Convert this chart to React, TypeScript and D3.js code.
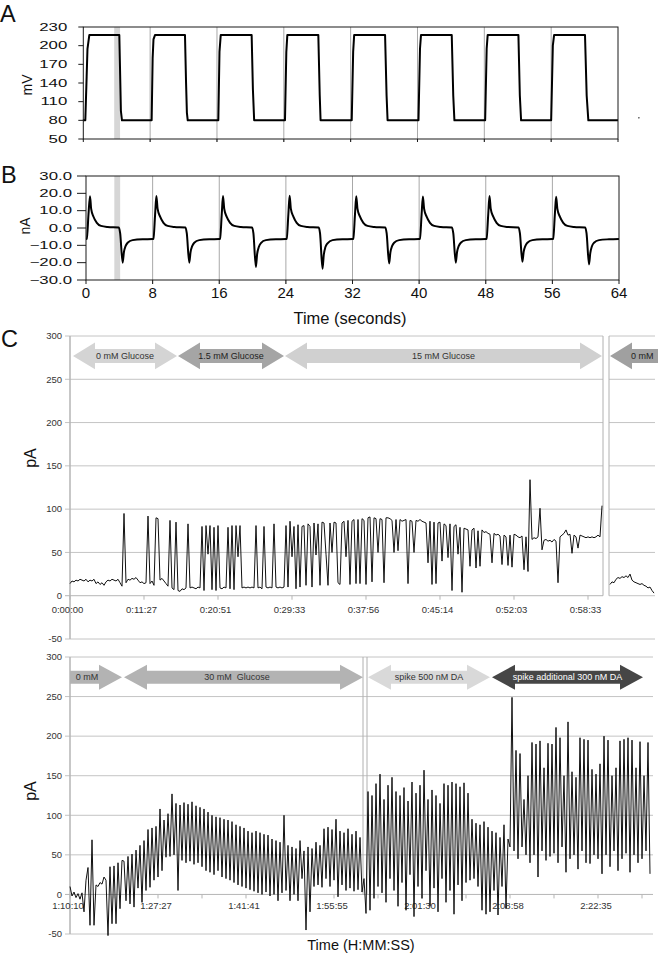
import { useEffect, useRef } from "react";
import * as d3 from "d3";

type Pt = [number, number];
type Arrow = {
  label: string;
  from: number;
  to: number;
  left: boolean;
  right: boolean;
  fill: string;
  ink: string;
  textAt?: number;
  anchor?: string;
};

const WIDTH = 660;
const HEIGHT = 954;
const FONT = "'Liberation Sans', Arial, Helvetica, sans-serif";

// ---- panel A : applied potential (mV) vs time (s)
const potentialTicks = [50, 80, 110, 140, 170, 200, 230];
const potentialTrace: Pt[] = [
  [-0.05, 80], [0.24, 80], [0.4, 150], [0.5, 195], [0.72, 217], [4.31, 217], [4.4, 160], [4.5, 95], [4.63, 80],
  [8.18, 80], [8.3, 180], [8.4, 210], [8.58, 217], [12.17, 217], [12.3, 140], [12.4, 92], [12.5, 80],
  [16.16, 80], [16.3, 190], [16.45, 217], [20.15, 217], [20.3, 130], [20.45, 80],
  [24.14, 80], [24.3, 190], [24.42, 217], [28.13, 217], [28.3, 120], [28.4, 80],
  [32.13, 80], [32.3, 190], [32.42, 217], [36.12, 217], [36.3, 120], [36.42, 80],
  [40.12, 80], [40.3, 195], [40.42, 217], [44.1, 217], [44.28, 120], [44.42, 80],
  [48.1, 80], [48.28, 195], [48.4, 217], [52.08, 217], [52.25, 120], [52.4, 80],
  [56.0, 80], [56.2, 200], [56.35, 217], [60.05, 217], [60.25, 120], [60.45, 80], [64, 80],
];
const potentialStray: Pt[] = [[66.5, 84]];
const bandA = [3.7, 4.4];

// ---- panel B : current (nA) vs time (s)
const currentTicks = [-30, -20, -10, 0, 10, 20, 30];
const timeTicks = [0, 8, 16, 24, 32, 40, 48, 56, 64];
const bandB = [3.4, 4.1];
const currentTrace: Pt[] = [
  [0, -6.4], [0.1, -6.3], [0.3, 8], [0.48, 18.3], [0.62, 11], [0.9, 6.5], [1.3, 3], [1.8, 1.2], [2.6, 0.6], [3.95, 0.3],
  [4.1, -3], [4.4, -20], [4.55, -14], [4.75, -10.5], [5.0, -8.5], [5.6, -7], [6.8, -6.5],
  [8.0, -6.4], [8.1, -6.2], [8.3, 8], [8.45, 18.5], [8.6, 11], [8.9, 6.5], [9.3, 3], [9.8, 1.2], [10.6, 0.6], [11.95, 0.3],
  [12.1, -3], [12.4, -20], [12.55, -14], [12.75, -10.5], [13.0, -8.5], [13.6, -7], [14.8, -6.5],
  [16.0, -6.4], [16.1, -6.2], [16.3, 8], [16.45, 18.4], [16.6, 11], [16.9, 6.4], [17.3, 3], [17.8, 1.2], [18.6, 0.6], [19.95, 0.3],
  [20.1, -3], [20.4, -22.5], [20.55, -15], [20.75, -11], [21.0, -8.7], [21.6, -7], [22.8, -6.5],
  [24.0, -6.4], [24.1, -6.2], [24.3, 8], [24.45, 18.6], [24.6, 11], [24.9, 6.6], [25.3, 3], [25.8, 1.2], [26.6, 0.6], [27.95, 0.3],
  [28.1, -3], [28.4, -23.5], [28.55, -15.5], [28.75, -11], [29.0, -8.8], [29.6, -7], [30.8, -6.5],
  [32.0, -6.4], [32.1, -6.2], [32.3, 8], [32.45, 18.3], [32.6, 11], [32.9, 6.5], [33.3, 3], [33.8, 1.2], [34.6, 0.6], [35.95, 0.3],
  [36.1, -3], [36.4, -20.5], [36.55, -14], [36.75, -10.5], [37.0, -8.5], [37.6, -7], [38.8, -6.5],
  [40.0, -6.4], [40.1, -6.2], [40.3, 8], [40.45, 18.2], [40.6, 11], [40.9, 6.5], [41.3, 3], [41.8, 1.2], [42.6, 0.6], [43.95, 0.3],
  [44.1, -3], [44.4, -20], [44.55, -14], [44.75, -10.5], [45.0, -8.5], [45.6, -7], [46.8, -6.5],
  [48.0, -6.4], [48.1, -6.2], [48.3, 8], [48.45, 18.4], [48.6, 11], [48.9, 6.5], [49.3, 3], [49.8, 1.2], [50.6, 0.6], [51.95, 0.3],
  [52.1, -3], [52.4, -19.5], [52.55, -13.8], [52.75, -10.5], [53.0, -8.5], [53.6, -7], [54.8, -6.5],
  [56.0, -6.4], [56.1, -6.2], [56.3, 8], [56.45, 18], [56.6, 11], [56.9, 6.5], [57.3, 3], [57.8, 1.2], [58.6, 0.6], [59.95, 0.3],
  [60.1, -3], [60.4, -21], [60.55, -14.5], [60.75, -10.5], [61.0, -8.5], [61.6, -7], [62.8, -6.5], [64, -6.3],
];

// ---- panel C : amperometric recording (pA), one value per sample
const pATicks = [-50, 0, 50, 100, 150, 200, 250, 300];
const firstRunLabels = ["0:00:00", "0:11:27", "0:20:51", "0:29:33", "0:37:56", "0:45:14", "0:52:03", "0:58:33"];
const firstRunTickEvery = 37;
const firstRun = [
  14, 17, 16, 18, 17, 19, 18, 17, 19, 16,
  18, 17, 19, 14, 16, 13, 15, 12, 16, 18,
  17, 19, 18, 17, 19, 15, 11, 95, 15, 19,
  18, 20, 19, 21, 18, 15, 16, 14, 15, 92,
  14, 17, 12, 90, 89, 18, 20, 17, 14, 11,
  87, 9, 7, 85, 6, 5, 8, 7, 9, 83,
  9, 10, 9, 8, 10, 9, 80, 6, 81, 48,
  81, 7, 79, 6, 81, 9, 8, 10, 9, 79,
  8, 81, 7, 81, 45, 81, 9, 10, 9, 10,
  9, 10, 9, 81, 9, 10, 8, 80, 10, 9,
  10, 9, 83, 10, 9, 10, 9, 10, 81, 10,
  86, 45, 80, 8, 82, 10, 80, 81, 12, 83,
  80, 10, 84, 47, 83, 12, 85, 84, 48, 12,
  84, 50, 85, 84, 15, 13, 84, 86, 45, 87,
  13, 86, 88, 14, 88, 14, 89, 87, 13, 90,
  91, 16, 90, 89, 50, 89, 88, 15, 90, 90,
  89, 87, 50, 88, 52, 88, 86, 87, 88, 14,
  87, 86, 50, 87, 86, 88, 86, 85, 84, 38,
  86, 13, 85, 14, 84, 85, 40, 83, 81, 44,
  83, 6, 80, 82, 48, 79, 4, 78, 77, 76,
  34, 76, 78, 32, 75, 34, 76, 73, 74, 72,
  71, 38, 72, 70, 71, 69, 36, 70, 68, 35,
  70, 33, 71, 70, 68, 67, 69, 30, 68, 28,
  134, 65, 67, 66, 68, 101, 53, 64, 65, 63,
  64, 62, 65, 63, 15, 68, 70, 72, 76, 70,
  71, 49, 70, 68, 55, 70, 69, 68, 67, 68,
  67, 68, 67, 68, 70, 68, 104,
];
const firstRunTail = [13, 16, 15, 19, 21, 20, 22, 21, 23, 21, 25, 18, 16, 15, 14, 13, 14, 12, 11, 9, 10, 6, 3];

const secondRunLabels = ["1:10:10", "1:27:27", "1:41:41", "1:55:55", "2:01:30", "2:08:58", "2:22:35"];
const secondRunTickEvery = 44;
const secondRunSplit = 147.5;
const secondRun = [
  10, -2, 3, -4, 1, -6, 2, -22, 18, 34,
  -39, 69, -39, 12, 10, 15, 13, 22, 18, -52,
  35, -37, 36, -37, 40, -18, 43, 42, -8, 48,
  -12, 51, -16, 56, 8, 62, -10, 68, 5, 82,
  9, 84, 18, 86, 22, 108, 30, 94, 47, 102,
  48, 127, 50, 115, 5, 113, 43, 116, 40, 114,
  42, 117, 38, 112, 40, 110, 35, 108, 30, 104,
  28, 100, 25, 98, 30, 97, 22, 95, 20, 94,
  18, 92, 15, 88, 12, 86, 10, 84, 8, 80,
  6, 78, 4, 80, 2, 78, 0, 76, 3, 75,
  -2, 70, 0, 68, -8, 66, 2, 100, 5, 62,
  -8, 60, 0, 58, -8, 68, 20, 55, -45, 60,
  -22, 58, 10, 66, 12, 62, 9, 83, 20, 85,
  10, 82, 18, 95, -3, 80, 12, 78, 5, 83,
  8, 76, 4, 80, 6, 72, 3, 20, -24, 130,
  -20, 125, -5, 140, 10, 152, 2, 120, -10, 138,
  20, 148, 5, 130, -15, 125, 15, 135, -20, 118,
  25, 142, -28, 128, 10, 138, -5, 157, 30, 120,
  -15, 132, 8, 125, -22, 115, 20, 140, -10, 138,
  5, 142, -25, 140, 12, 136, -8, 141, 15, 128,
  18, 95, 20, 90, 10, 88, -20, 92, -25, 85,
  -22, 80, 5, 78, -26, 72, 10, 88, -18, 70,
  60, 249, 55, 182, 45, 178, 60, 120, 50, 150,
  40, 192, 50, 190, 22, 194, 55, 160, 43, 191,
  48, 190, 52, 211, 40, 198, 60, 150, 28, 218,
  45, 155, 50, 148, 32, 198, 55, 196, 40, 195,
  39, 158, 50, 152, 45, 165, 26, 200, 50, 195,
  35, 150, 55, 160, 30, 194, 45, 196, 52, 198,
  28, 195, 50, 160, 40, 193, 45, 150, 55, 192,
  26,
];

// condition arrows (sample index units)
const firstRunArrows: Arrow[] = [
  { label: "0 mM Glucose", from: 1.5, to: 53.5, left: true, right: true, fill: "#d4d4d4", ink: "#333" },
  { label: "1.5 mM Glucose", from: 54, to: 107, left: true, right: true, fill: "#a5a5a5", ink: "#222" },
  { label: "15 mM Glucose", from: 107.5, to: 266, left: true, right: true, fill: "#d0d0d0", ink: "#333" },
];
const tailArrows: Arrow[] = [
  { label: "0 mM", from: 0, to: 40, left: true, right: false, fill: "#a0a0a0", ink: "#222", textAt: 10.5, anchor: "start" },
];
const secondRunArrows: Arrow[] = [
  { label: "0 mM", from: 0, to: 26, left: false, right: true, fill: "#b3b3b3", ink: "#333", textAt: 8.5 },
  { label: "30 mM  Glucose", from: 27, to: 146.5, left: true, right: true, fill: "#b3b3b3", ink: "#333", textAt: 83.5 },
  { label: "spike 500 nM DA", from: 149, to: 210, left: true, right: true, fill: "#d9d9d9", ink: "#333" },
  { label: "spike additional 300 nM DA", from: 211, to: 286.5, left: true, right: true, fill: "#464646", ink: "#fff" },
];

const GRID = "#c4c4c4";
const AXIS = "#b5b5b5";

function arrowPoints(x1: number, x2: number, yc: number, shaft: number, head: number, len: number, left: boolean, right: boolean): Pt[] {
  const pts: Pt[] = [];
  if (left) pts.push([x1, yc], [x1 + len, yc - head], [x1 + len, yc - shaft]);
  else pts.push([x1, yc - shaft]);
  if (right) pts.push([x2 - len, yc - shaft], [x2 - len, yc - head], [x2, yc], [x2 - len, yc + head], [x2 - len, yc + shaft]);
  else pts.push([x2, yc - shaft], [x2, yc + shaft]);
  if (left) pts.push([x1 + len, yc + shaft], [x1 + len, yc + head]);
  else pts.push([x1, yc + shaft]);
  return pts;
}

export default function App() {
  const svgRef = useRef<SVGSVGElement>(null);

  useEffect(() => {
    const svg = d3.select(svgRef.current);
    svg.selectAll("*").remove();

    const text = (
      g: d3.Selection<any, unknown, null, undefined>,
      x: number,
      y: number,
      s: string,
      size: number,
      anchor = "middle",
      fill = "#111",
    ) =>
      g
        .append("text")
        .attr("x", x)
        .attr("y", y)
        .attr("font-family", FONT)
        .attr("font-size", size)
        .attr("text-anchor", anchor)
        .attr("fill", fill)
        .style("white-space", "pre")
        .text(s);

    // ================= A =================
    const A = { left: 83.3, right: 618, top: 27, bottom: 139 };
    const xA = d3.scaleLinear().domain([0, 64]).range([A.left, A.right]);
    const yA = d3.scaleLinear().domain([50, 230]).range([A.bottom, A.top]);
    const gA = svg.append("g");

    gA.append("rect")
      .attr("x", xA(bandA[0]))
      .attr("width", xA(bandA[1]) - xA(bandA[0]))
      .attr("y", A.top)
      .attr("height", A.bottom - A.top)
      .attr("fill", "#d6d6d6");
    gA.selectAll(".vg")
      .data(timeTicks.slice(1, -1))
      .enter()
      .append("line")
      .attr("x1", (d) => xA(d))
      .attr("x2", (d) => xA(d))
      .attr("y1", A.top)
      .attr("y2", A.bottom + 3)
      .attr("stroke", "#a8a8a8");
    gA.append("path")
      .datum(potentialTrace)
      .attr("fill", "none")
      .attr("stroke", "#000")
      .attr("stroke-width", 2)
      .attr("stroke-linejoin", "round")
      .attr("d", d3.line<Pt>().x((d) => xA(d[0])).y((d) => yA(d[1])));
    gA.selectAll(".stray")
      .data(potentialStray)
      .enter()
      .append("circle")
      .attr("cx", (d) => xA(d[0]))
      .attr("cy", (d) => yA(d[1]))
      .attr("r", 0.8)
      .attr("fill", "#444");
    gA.append("rect")
      .attr("x", A.left)
      .attr("y", A.top)
      .attr("width", A.right - A.left)
      .attr("height", A.bottom - A.top)
      .attr("fill", "none")
      .attr("stroke", "#1a1a1a");
    potentialTicks.forEach((v) => {
      gA.append("line").attr("x1", A.left - 5).attr("x2", A.left).attr("y1", yA(v)).attr("y2", yA(v)).attr("stroke", "#1a1a1a");
      text(gA, 0, 0, String(v), 10.5, "end")
        .attr("dy", "0.36em")
        .attr("transform", `translate(${A.left - 16},${yA(v)}) scale(1.6,1)`);
    });
    timeTicks.forEach((t) => {
      gA.append("line").attr("x1", xA(t)).attr("x2", xA(t)).attr("y1", A.bottom).attr("y2", A.bottom + 3).attr("stroke", "#1a1a1a");
    });
    text(gA, 0, 0, "mV", 14).attr("dy", "0.36em").attr("transform", `translate(27,${(A.top + A.bottom) / 2 + 2}) rotate(-90)`);
    text(gA, 0, 22, "A", 23.5, "start");

    // ================= B =================
    const B = { left: 86, right: 619, top: 176, bottom: 280 };
    const xB = d3.scaleLinear().domain([0, 64]).range([B.left, B.right]);
    const yB = d3.scaleLinear().domain([-30, 30]).range([B.bottom, B.top]);
    const gB = svg.append("g");
    gB.append("rect")
      .attr("x", xB(bandB[0]))
      .attr("width", xB(bandB[1]) - xB(bandB[0]))
      .attr("y", B.top)
      .attr("height", B.bottom - B.top)
      .attr("fill", "#d6d6d6");
    gB.selectAll(".vg")
      .data(timeTicks.slice(1, -1))
      .enter()
      .append("line")
      .attr("x1", (d) => xB(d))
      .attr("x2", (d) => xB(d))
      .attr("y1", B.top)
      .attr("y2", B.bottom + 4)
      .attr("stroke", "#a8a8a8");
    gB.append("path")
      .datum(currentTrace)
      .attr("fill", "none")
      .attr("stroke", "#000")
      .attr("stroke-width", 2)
      .attr("stroke-linejoin", "round")
      .attr("d", d3.line<Pt>().x((d) => xB(d[0])).y((d) => yB(d[1])).curve(d3.curveMonotoneX));
    gB.append("rect")
      .attr("x", B.left)
      .attr("y", B.top)
      .attr("width", B.right - B.left)
      .attr("height", B.bottom - B.top)
      .attr("fill", "none")
      .attr("stroke", "#1a1a1a");
    currentTicks.forEach((v) => {
      gB.append("line").attr("x1", B.left - 9).attr("x2", B.left).attr("y1", yB(v)).attr("y2", yB(v)).attr("stroke", "#1a1a1a");
      text(gB, 0, 0, d3.format(".1f")(v), 10.5, "end")
        .attr("dy", "0.36em")
        .attr("transform", `translate(${B.left - 14},${yB(v)}) scale(1.6,1)`);
    });
    timeTicks.forEach((t) => {
      gB.append("line").attr("x1", xB(t)).attr("x2", xB(t)).attr("y1", B.bottom).attr("y2", B.bottom + 4).attr("stroke", "#1a1a1a");
      text(gB, xB(t), 298, String(t), 15);
    });
    text(gB, 0, 0, "nA", 14).attr("dy", "0.36em").attr("transform", `translate(25,${yB(0) - 2}) rotate(-90)`);
    text(gB, 350, 324, "Time (seconds)", 16.5);
    text(gB, 1, 183, "B", 23.5, "start");

    // ================= C, first run =================
    const C1 = { left: 70, right: 602, segEnd: 603, seg2: 609, clip: 658, top: 336, bottom: 639 };
    const x1 = d3.scaleLinear().domain([0, firstRun.length - 1]).range([C1.left, C1.right]);
    const x1t = d3.scaleLinear().domain([0, firstRunTail.length - 1]).range([610, 654]);
    const y1 = d3.scaleLinear().domain([-50, 300]).range([C1.bottom, C1.top]);
    const gC = svg.append("g");

    pATicks.forEach((v) => {
      if (v === -50) {
        gC.append("line").attr("x1", C1.left - 5).attr("x2", 655).attr("y1", y1(v)).attr("y2", y1(v)).attr("stroke", GRID);
      } else {
        gC.append("line").attr("x1", C1.left - 5).attr("x2", C1.segEnd).attr("y1", y1(v)).attr("y2", y1(v)).attr("stroke", v === 0 ? AXIS : GRID);
        gC.append("line").attr("x1", C1.seg2).attr("x2", 655).attr("y1", y1(v)).attr("y2", y1(v)).attr("stroke", GRID);
      }
      text(gC, 62, y1(v), String(v), 9.5, "end", "#333").attr("dy", "0.35em");
    });
    [C1.segEnd, C1.seg2].forEach((x) => {
      gC.append("line").attr("x1", x).attr("x2", x).attr("y1", y1(300)).attr("y2", y1(0)).attr("stroke", "#b0b0b0");
    });
    gC.append("line").attr("x1", C1.left).attr("x2", C1.left).attr("y1", y1(300)).attr("y2", y1(-50)).attr("stroke", AXIS).attr("stroke-width", 1.5);
    firstRunLabels.forEach((lab, k) => {
      const xx = x1(k * firstRunTickEvery);
      gC.append("line").attr("x1", xx).attr("x2", xx).attr("y1", y1(0)).attr("y2", y1(0) + 4).attr("stroke", AXIS);
      text(gC, xx - 2.5, 613, lab, 9.5, "middle", "#333");
    });

    const drawArrows = (
      g: d3.Selection<any, unknown, null, undefined>,
      list: Arrow[],
      xs: d3.ScaleLinear<number, number>,
      yc: number,
      shaft: number,
      head: number,
      len: number,
    ) => {
      list.forEach((a) => {
        const pts = arrowPoints(xs(a.from), xs(a.to), yc, shaft, head, len, a.left, a.right);
        g.append("polygon").attr("points", pts.map((p) => p.join(",")).join(" ")).attr("fill", a.fill);
        const tx = a.textAt !== undefined ? xs(a.textAt) : (xs(a.from) + xs(a.to)) / 2;
        text(g, tx, yc, a.label, 9, a.anchor ?? "middle", a.ink).attr("dy", "0.35em");
      });
    };
    drawArrows(gC, firstRunArrows, x1, y1(277), 7, 13.3, 22);

    const clip = svg.append("defs").append("clipPath").attr("id", "tailClip");
    clip.append("rect").attr("x", C1.seg2).attr("y", 0).attr("width", C1.clip - C1.seg2).attr("height", HEIGHT);
    const gTail = gC.append("g").attr("clip-path", "url(#tailClip)");
    drawArrows(gTail, tailArrows, x1t, y1(277), 7, 13.3, 22);

    const lineIdx = (xs: d3.ScaleLinear<number, number>, ys: d3.ScaleLinear<number, number>) =>
      d3.line<number>().x((_, i) => xs(i)).y((d) => ys(d));
    gC.append("path").datum(firstRun).attr("fill", "none").attr("stroke", "#111").attr("stroke-width", 1).attr("d", lineIdx(x1, y1));
    gTail.append("path").datum(firstRunTail).attr("fill", "none").attr("stroke", "#111").attr("stroke-width", 1).attr("d", lineIdx(x1t, y1));

    text(gC, 0, 0, "pA", 16).attr("dy", "0.36em").attr("transform", `translate(30,458) rotate(-90)`);
    text(gC, 1, 347, "C", 23.5, "start");

    // ================= C, second run =================
    const C2 = { left: 70, right: 650, edge: 653, top: 657, bottom: 934 };
    const x2 = d3.scaleLinear().domain([0, secondRun.length - 1]).range([C2.left, C2.right]);
    const y2 = d3.scaleLinear().domain([-50, 300]).range([C2.bottom, C2.top]);
    const gD = svg.append("g");
    pATicks.forEach((v) => {
      gD.append("line").attr("x1", C2.left - 5).attr("x2", C2.edge).attr("y1", y2(v)).attr("y2", y2(v)).attr("stroke", v === 0 ? AXIS : GRID);
      text(gD, 62, y2(v), String(v), 9.5, "end", "#333").attr("dy", "0.35em");
    });
    [secondRunSplit - 1, secondRunSplit + 1].forEach((i) => {
      gD.append("line").attr("x1", x2(i)).attr("x2", x2(i)).attr("y1", y2(300)).attr("y2", y2(0)).attr("stroke", "#b0b0b0");
    });
    gD.append("line").attr("x1", C2.left).attr("x2", C2.left).attr("y1", y2(300)).attr("y2", y2(-50)).attr("stroke", AXIS).attr("stroke-width", 1.5);
    secondRunLabels.forEach((lab, k) => {
      const xx = x2(k * secondRunTickEvery);
      gD.append("line").attr("x1", xx).attr("x2", xx).attr("y1", y2(0)).attr("y2", y2(0) + 4).attr("stroke", AXIS);
      const mid = x2((k + 0.5) * secondRunTickEvery);
      if (mid < C2.right) gD.append("line").attr("x1", mid).attr("x2", mid).attr("y1", y2(0)).attr("y2", y2(0) + 4).attr("stroke", AXIS);
      text(gD, xx - 2, 909, lab, 9.5, "middle", "#333");
    });
    drawArrows(gD, secondRunArrows, x2, y2(274.5), 6.5, 12.5, 23);
    gD.append("path").datum(secondRun).attr("fill", "none").attr("stroke", "#111").attr("stroke-width", 1).attr("d", lineIdx(x2, y2));
    text(gD, 0, 0, "pA", 16).attr("dy", "0.36em").attr("transform", `translate(30,791) rotate(-90)`);
    text(gD, 361, 950, "Time (H:MM:SS)", 14.5);
  }, []);

  return (
    <div style={{ position: "absolute", left: 0, top: 0, background: "#fff" }}>
      <svg ref={svgRef} width={WIDTH} height={HEIGHT} style={{ display: "block" }} />
    </div>
  );
}
